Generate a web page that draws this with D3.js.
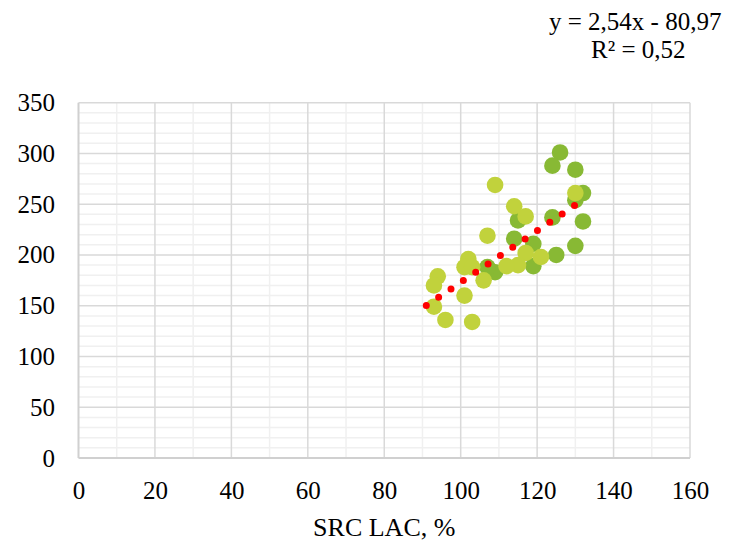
<!DOCTYPE html>
<html><head><meta charset="utf-8">
<script src="https://cdn.jsdelivr.net/npm/d3@7"></script>
<style>body{margin:0;background:#fff}svg{display:block}</style>
</head><body>
<svg id="c" width="735" height="541"></svg>
<script>
const xTicks = [0,20,40,60,80,100,120,140,160];
const yTicks = [0,50,100,150,200,250,300,350];
const seriesDarkX = [126,124,130,132,130,132,130,124,125,115,114,119,119,109,107];
const seriesDarkY = [301,288,284,261,254,233,209,237,200,234,216,211,189,183,188];
const seriesLightX = [130,117,114,109,107,117,121,115,112,106,102,101,103,101,94,93,93,96,103];
const seriesLightY = [261,238,248,269,219,202,198,190,189,175,196,188,188,160,179,170,149,136,134];
const trendSlope = 2.54, trendIntercept = -80.97;
const trendRange = [91,133];
const eqLines = ["y = 2,54x - 80,97","R² = 0,52"];
const xTitle = "SRC LAC, %";

const svg = d3.select("#c");
const L=78.5,R=690,T=102.7,B=458;
const x = d3.scaleLinear().domain([0,160]).range([L,R]);
const y = d3.scaleLinear().domain([0,350]).range([B,T]);
const font = "'Liberation Serif','Times New Roman',serif";

const g = svg.append("g");
// minor grid
g.selectAll(".mx").data(d3.range(10,160,20)).enter().append("line")
 .attr("x1",d=>x(d)).attr("x2",d=>x(d)).attr("y1",T).attr("y2",B)
 .attr("stroke","#f0f0f0").attr("stroke-width",1.5);
g.selectAll(".my").data(d3.range(0,351,10).filter(v=>v%50!==0)).enter().append("line")
 .attr("y1",d=>y(d)).attr("y2",d=>y(d)).attr("x1",L).attr("x2",R)
 .attr("stroke","#f0f0f0").attr("stroke-width",1.5);
// major grid
g.selectAll(".Mx").data(xTicks.slice(1)).enter().append("line")
 .attr("x1",d=>x(d)).attr("x2",d=>x(d)).attr("y1",T).attr("y2",B)
 .attr("stroke","#d9d9d9").attr("stroke-width",1.5);
g.selectAll(".My").data(yTicks.slice(1)).enter().append("line")
 .attr("y1",d=>y(d)).attr("y2",d=>y(d)).attr("x1",L).attr("x2",R)
 .attr("stroke","#d9d9d9").attr("stroke-width",1.5);
// axes lines
g.append("line").attr("x1",L).attr("x2",L).attr("y1",T).attr("y2",B).attr("stroke","#d0d0d0").attr("stroke-width",2);
g.append("line").attr("x1",L).attr("x2",R).attr("y1",B).attr("y2",B).attr("stroke","#d0d0d0").attr("stroke-width",2);

// axes labels via d3 axes
const xa = svg.append("g").attr("transform",`translate(0,${B})`)
 .call(d3.axisBottom(x).tickValues(xTicks).tickSize(0).tickPadding(23));
const ya = svg.append("g").attr("transform",`translate(${L},0)`)
 .call(d3.axisLeft(y).tickValues(yTicks).tickSize(0).tickPadding(23.5));
[xa,ya].forEach(a=>{a.select(".domain").remove();
 a.selectAll("text").attr("font-family",font).attr("font-size",25).attr("fill","#000");});

// points
const dark = seriesDarkX.map((v,i)=>({x:v,y:seriesDarkY[i]}));
const light = seriesLightX.map((v,i)=>({x:v,y:seriesLightY[i]}));
svg.append("g").selectAll("circle").data(dark).enter().append("circle")
 .attr("cx",d=>x(d.x)).attr("cy",d=>y(d.y)).attr("r",8.3).attr("fill","#88b934");
svg.append("g").selectAll("circle").data(light).enter().append("circle")
 .attr("cx",d=>x(d.x)).attr("cy",d=>y(d.y)).attr("r",8.3).attr("fill","#c1d23c");

// trend line
const tl = d3.line().x(d=>x(d)).y(d=>y(trendSlope*d+trendIntercept));
svg.append("path").datum(trendRange).attr("d",tl).attr("fill","none")
 .attr("stroke","#ff0000").attr("stroke-width",7).attr("stroke-linecap","round")
 .attr("stroke-dasharray","0 14.9");

// equation
svg.append("text").attr("x",549).attr("y",30).attr("font-family",font).attr("font-size",25).text(eqLines[0]);
svg.append("text").attr("x",591).attr("y",58).attr("font-family",font).attr("font-size",25).text(eqLines[1]);

// x title
svg.append("text").attr("x",(L+R)/2).attr("y",536).attr("text-anchor","middle")
 .attr("font-family",font).attr("font-size",26).text(xTitle);
</script>
</body></html>
